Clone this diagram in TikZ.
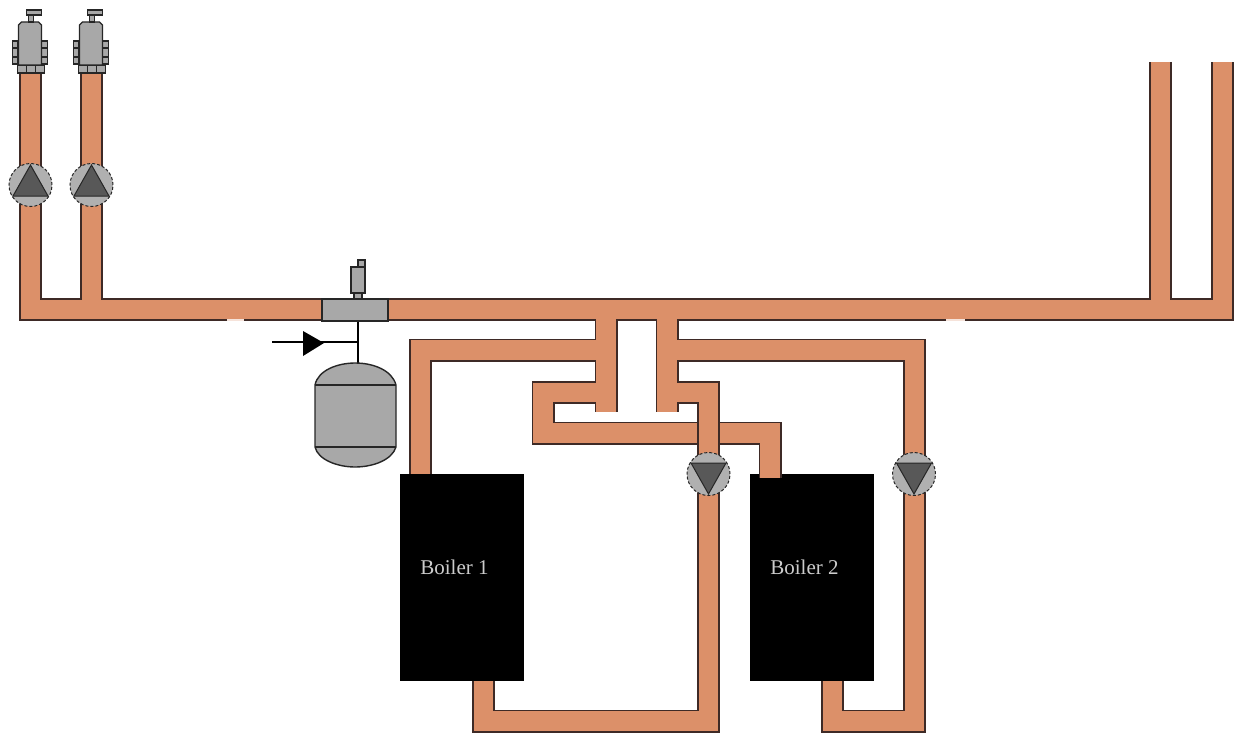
\documentclass[tikz,border=0pt]{standalone}
\usepackage{fontspec}
\setmainfont{Liberation Serif}
\usetikzlibrary{calc, positioning}
\definecolor{pipeorange}{HTML}{DC9069}
\definecolor{pipeedge}{HTML}{3E2A26}
\definecolor{fitgrey}{HTML}{A8A8A8}
\definecolor{pumpgrey}{HTML}{B0B0B0}
\definecolor{tridark}{HTML}{585858}
\tikzset{
  % tubo: bordo scuro e riempimento
  pipeline/.style={line width=23pt, pipeedge},
  pipefill/.style={line width=19.5pt, pipeorange},
  % caldaia
  boiler/.style={fill=black, minimum width=124pt, minimum height=207pt, inner sep=0pt},
  boilerlbl/.style={text=black!20, font=\fontsize{21}{24}\selectfont, inner sep=0pt},
  % pompa
  pumpnode/.style={circle, draw=black!85, densely dashed, line width=1pt, fill=pumpgrey,
    minimum size=43pt, inner sep=0pt},
  pumptri/.style={draw=black!85, line width=1pt, fill=tridark},
  % raccordi e valvole
  fitting/.style={draw=black!85, line width=1.4pt, fill=fitgrey},
  feedline/.style={line width=2.8pt, black},
}
\newcommand{\pump}[4]{%
  \node[pumpnode] (#1) at (#2,#3) {};
  \begin{scope}[shift={(#2,#3)}, yscale=#4]
    \draw[pumptri] (0,20) -- (-17.5,-11) -- (17.5,-11) -- cycle;
  \end{scope}
}
\newcommand{\valve}[1]{%
  \begin{scope}[shift={(#1,0)}]
    \draw[fitting] (-13,65) rectangle (14,73);
    \draw[fitting] (-4,65) -- (-4,73) (5,65) -- (5,73);
    \draw[fitting] (-18,41) rectangle (-13,64);
    \draw[fitting] (-18,48) -- (-13,48) (-18,57) -- (-13,57);
    \draw[fitting] (11,41) rectangle (17,64);
    \draw[fitting] (11,48) -- (17,48) (11,57) -- (17,57);
    \draw[fitting] (-12,65) -- (-12,25) -- (-9,22) -- (8,22) -- (11,25) -- (11,65) -- cycle;
    \draw[fitting] (-2,15) rectangle (3,22);
    \draw[fitting] (-4,10) rectangle (11,15);
  \end{scope}
}
\newcommand{\pipenet}[1]{%
  \draw[#1] (topA) -- (mainL -| topA) -- (mainR -| topD) -- (topD);
  \draw[#1] (topB) -- (mainL -| topB);
  \draw[#1] (topC) -- (mainL -| topC);
  \draw[#1] (mainL -| dropA) -- (endA);
  \draw[#1] (mainL -| dropB) -- (endB);
  \draw[#1] (boiler1.north -| feedA) -- (feedA) -- (upL -| dropA);
  \draw[#1] (upL -| dropB) -- (feedD) -- (botR) -- (botR2) -- (boiler2.south -| botR2);
  \draw[#1] (lowL -| dropA) -- (cornerL) -- (cornerL2) -- (cornerR) -- (inlet2);
  \draw[#1] (lowL -| dropB) -- (feedC) -- (botM) -- (botM2) -- (boiler1.south -| botM2);
}

\begin{document}
\begin{tikzpicture}[x=1pt, y=-1pt]
  \useasboundingbox (0,0) rectangle (1241,733);
  \node[boiler] (boiler1) at (462,577.5) {};
  \node[boiler] (boiler2) at (812,577.5) {};
  \node[boilerlbl] (lbl1) at (454.5,567) {Boiler 1};
  \node[boilerlbl] (lbl2) at (804.5,567) {Boiler 2};
  % punti dei tubi
  \coordinate (topA) at (30.5,73);
  \coordinate (topB) at (91.5,73);
  \coordinate (topC) at (1160.5,62);
  \coordinate (topD) at (1222.5,62);
  \coordinate (mainL) at (20,309.5);
  \coordinate (mainR) at (1233,309.5);
  \coordinate (dropA) at (606,309.5);
  \coordinate (dropB) at (667,309.5);
  \coordinate (endA) at (606,412);
  \coordinate (endB) at (667,412);
  \coordinate (upL) at (420.5,350);
  \coordinate (lowL) at (543,392.5);
  \coordinate (feedA) at (420.5,350);
  \coordinate (feedD) at (914.5,350);
  \coordinate (botR) at (914.5,721);
  \coordinate (botR2) at (832.5,721);
  \coordinate (cornerL) at (543,392.5);
  \coordinate (cornerL2) at (543,433);
  \coordinate (cornerR) at (770,433);
  \coordinate (inlet2) at (770,478);
  \coordinate (feedC) at (708.5,392.5);
  \coordinate (botM) at (708.5,721);
  \coordinate (botM2) at (483.5,721);
  % tubi
  \pipenet{pipeline}
  \pipenet{pipefill}
  % incrocio
  \coordinate (crossT) at (708.5,418);
  \coordinate (crossB) at (708.5,448);
  \draw[pipeline] (crossT) -- (crossB);
  \draw[pipefill] (crossT) -- (crossB);
  % piccole lacune del bordo
  \fill[pipeorange!25] (227,318.8) rectangle (244,321);
  \fill[pipeorange!25] (946,318.8) rectangle (965,321);
  \pump{pumpA}{30.5}{185}{-1}
  \pump{pumpB}{91.5}{185}{-1}
  \pump{pumpC}{708.5}{474}{1}
  \pump{pumpD}{914}{474}{1}
  \valve{30.5}
  \valve{91.5}
  % vaso di espansione
  \coordinate (tanktop) at (358,363);
  \coordinate (feedin) at (272,342);
  \node[fitting, minimum width=66pt, minimum height=22pt, inner sep=0pt] (tee) at (355,310) {};
  \draw[fitting] (354,293) rectangle (362,299);
  \draw[fitting] (351,267) rectangle (365,293);
  \draw[fitting] (358,260) rectangle (365,267);
  \draw[feedline] (tee.south -| tanktop) -- (tanktop);
  \draw[feedline] (feedin) -- (feedin -| tanktop);
  \fill (303,331) -- (324,343) -- (303,356) -- cycle;
  \draw[fitting] (315,385) .. controls (318,370) and (338,363) .. (355,363)
    .. controls (373,363) and (392,370) .. (396,385) -- (396,447)
    .. controls (392,460) and (373,467) .. (355,467)
    .. controls (338,467) and (318,460) .. (315,447) -- cycle;
  \draw[fitting] (315,385) -- (396,385);
  \draw[fitting] (315,447) -- (396,447);
\end{tikzpicture}
\end{document}
